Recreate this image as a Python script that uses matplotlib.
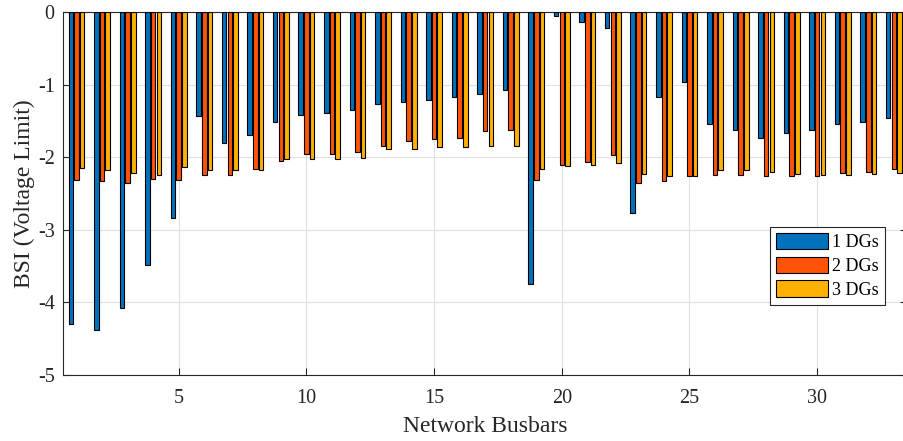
import numpy as np
import matplotlib.pyplot as plt

plt.rcParams['font.family'] = ['Liberation Serif', 'DejaVu Serif']
plt.rcParams['axes.unicode_minus'] = False

buses = np.arange(1, 34)
bsi_1dg = [-4.30, -4.38, -4.08, -3.49, -2.84, -1.43, -1.81, -1.69, -1.52, -1.42,
           -1.39, -1.35, -1.27, -1.24, -1.21, -1.17, -1.13, -1.07, -3.75, -0.055,
           -0.14, -0.22, -2.77, -1.17, -0.97, -1.54, -1.63, -1.74, -1.66, -1.63,
           -1.54, -1.51, -1.46]
bsi_2dg = [-2.31, -2.33, -2.35, -2.30, -2.32, -2.25, -2.25, -2.16, -2.05, -1.96,
           -1.95, -1.93, -1.84, -1.77, -1.75, -1.73, -1.64, -1.62, -2.31, -2.11,
           -2.06, -1.97, -2.35, -2.33, -2.26, -2.25, -2.25, -2.26, -2.26, -2.26,
           -2.22, -2.20, -2.16]
bsi_3dg = [-2.15, -2.17, -2.22, -2.24, -2.13, -2.18, -2.18, -2.17, -2.03, -2.02,
           -2.02, -2.01, -1.88, -1.88, -1.86, -1.86, -1.85, -1.84, -2.16, -2.12,
           -2.11, -2.08, -2.23, -2.26, -2.26, -2.18, -2.18, -2.21, -2.23, -2.25,
           -2.24, -2.23, -2.22]
labels = ['1 DGs', '2 DGs', '3 DGs']
colors = ['#0072BD', '#FF5308', '#FFB000']

fig = plt.figure(figsize=(9.04, 4.41), dpi=100)
ax = fig.add_axes([0.0697, 0.1497, 0.934, 0.823])

# grouped bars, MATLAB-style spacing
offset = 0.222
width = 0.178
for i, (vals, lab, col) in enumerate(zip([bsi_1dg, bsi_2dg, bsi_3dg], labels, colors)):
    ax.bar(buses + (i - 1) * offset, vals, width, color=col, edgecolor='black',
           linewidth=0.8, label=lab, zorder=3)

ax.set_xlim(0.47, 33.53)
ax.set_ylim(-5, 0)
ax.set_xticks([5, 10, 15, 20, 25, 30])
ax.set_yticks([-5, -4, -3, -2, -1, 0])
ax.grid(True, color='#e0e0e0', linewidth=0.8, zorder=0)
ax.tick_params(direction='in', top=True, right=True, length=5, width=0.8,
               colors='#262626', labelsize=14.5)
ax.tick_params(axis='x', pad=10)
ax.tick_params(axis='y', pad=6)
for sp in ax.spines.values():
    sp.set_color('#262626')
    sp.set_linewidth(0.8)

ax.set_xlabel('Network Busbars', fontsize=17, color='#262626', labelpad=6)
ax.set_ylabel('BSI (Voltage Limit)', fontsize=17, color='#262626', labelpad=2)

leg = ax.legend(loc='lower left', bbox_to_anchor=(0.837, 0.193), fontsize=13,
                fancybox=False, framealpha=1, edgecolor='#262626',
                handlelength=2.9, handleheight=1.0, handletextpad=0.2,
                labelspacing=0.3, borderpad=0.35, borderaxespad=0)
leg.get_frame().set_linewidth(0.8)

fig.savefig('out.png', dpi=100)
